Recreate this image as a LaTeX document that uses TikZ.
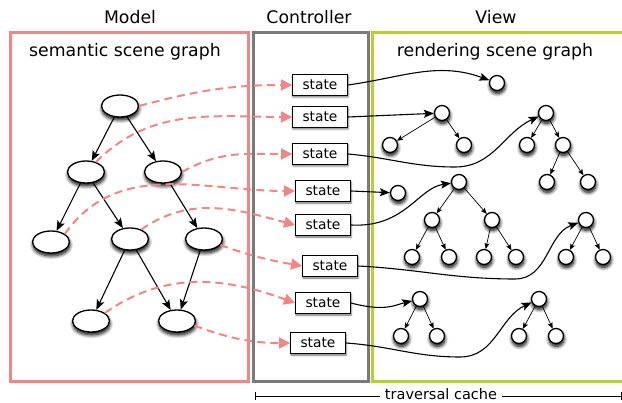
\documentclass[tikz,border=0pt]{standalone}
\usepackage{fontspec}
\setmainfont{DejaVu Sans}
\usetikzlibrary{arrows.meta,shapes.geometric,shadows.blur}
\definecolor{pinkc}{RGB}{242,134,132}
\definecolor{grayc}{RGB}{122,122,122}
\definecolor{greenc}{RGB}{186,207,44}
\begin{document}
\begin{tikzpicture}[x=1pt,y=1pt,
  shd/.style={blur shadow={shadow xshift=0.5pt,shadow yshift=-3pt,shadow blur radius=3.5pt,shadow blur steps=8,shadow opacity=100}},
  mnode/.style={ellipse,draw,line width=1.3pt,fill=white,minimum width=37pt,minimum height=22pt,inner sep=0pt,shd},
  vnode/.style={circle,draw,line width=1.3pt,fill=white,minimum size=15pt,inner sep=0pt,shd},
  stbox/.style={draw,line width=0.9pt,fill=white,minimum width=55pt,minimum height=21pt,inner sep=0pt,
    font=\fontsize{13.8}{16}\selectfont,blur shadow={shadow xshift=0.5pt,shadow yshift=-1.5pt,shadow blur radius=2pt,shadow opacity=60}},
  marrow/.style={-{Stealth[length=10pt,width=8pt,inset=2pt]},line width=1.1pt},
  varrow/.style={-{Stealth[length=6pt,width=5pt,inset=1.2pt]},line width=0.7pt},
  sarrow/.style={-{Stealth[length=10pt,width=8pt,inset=2pt]},line width=1.1pt},
  darrow/.style={-{Triangle[length=11pt,width=11pt]},line width=2pt,dash pattern=on 8pt off 5pt,draw=pinkc},
  frame/.style={line width=3pt},
  title/.style={font=\fontsize{17.3}{20}\selectfont,anchor=base},
]
\useasboundingbox (0,0) rectangle (622,-403);
% frames
\draw[frame,pinkc] (10,-33) rectangle (248,-382);
\draw[frame,grayc] (253,-33) rectangle (368,-382);
\draw[frame,greenc] (372,-33) rectangle (623,-382);
% titles
\node[title] (tModel) at (130,-24) {Model};
\node[title] (tCtrl) at (309,-24) {Controller};
\node[title] (tView) at (496,-24) {View};
\node[title] (tSem) at (125,-57) {semantic scene graph};
\node[title] (tRen) at (495,-57) {rendering scene graph};
% traversal cache
\coordinate (tcl) at (255,-396);
\coordinate (tcr) at (621,-396);
\draw[line width=0.6pt] (tcl) -- (tcr);
\draw[line width=0.6pt] (255,-392) -- (255,-400) (621,-392) -- (621,-400);
\node[fill=white,inner xsep=5pt,inner ysep=0pt,anchor=base,font=\fontsize{14.5}{16}\selectfont] (tc) at (441,-400) {traversal cache};
% model nodes
\node[mnode] (A) at (120,-106) {};
\node[mnode] (B) at (86,-172) {};
\node[mnode] (C) at (163,-172) {};
\node[mnode] (D) at (51,-242) {};
\node[mnode] (E) at (130,-239) {};
\node[mnode] (F) at (204,-239) {};
\node[mnode] (G) at (91,-321) {};
\node[mnode] (H) at (177,-321) {};
\draw[marrow] (A) -- (B);
\draw[marrow] (A) -- (C);
\draw[marrow] (B) -- (D);
\draw[marrow] (B) -- (E);
\draw[marrow] (C) -- (F);
\draw[marrow] (E) -- (G);
\draw[marrow] (E) -- (H);
\draw[marrow] (F) -- (H);
% state boxes
\node[stbox] (s1) at (320,-85) {state};
\node[stbox] (s2) at (320,-117) {state};
\node[stbox] (s3) at (320,-154) {state};
\node[stbox] (s4) at (323,-191) {state};
\node[stbox] (s5) at (323,-225) {state};
\node[stbox] (s6) at (330,-266) {state};
\node[stbox] (s7) at (323,-303) {state};
\node[stbox] (s8) at (318,-343) {state};
% dashed links
\draw[darrow] (A.east) to[out=15,in=180] (s1.west);
\draw[darrow] (B.45) to[out=45,in=180] (s2.west);
\draw[darrow] (C.east) to[out=30,in=180] (s3.west);
\draw[darrow] (D.30) to[out=55,in=180] (s4.west);
\draw[darrow] (E.40) to[out=35,in=165] (s5.west);
\draw[darrow] (F.-20) to[out=-20,in=170] (s6.west);
\draw[darrow] (G.30) to[out=35,in=160] (s7.west);
\draw[darrow] (H.-15) to[out=-20,in=180] (s8.west);
% view nodes
\node[vnode] (v1) at (497,-83) {};
\node[vnode] (t1) at (442,-113) {};
\node[vnode] (t1a) at (390,-145) {};
\node[vnode] (t1b) at (464,-145) {};
\node[vnode] (t2) at (546,-113) {};
\node[vnode] (t2a) at (527,-145) {};
\node[vnode] (t2b) at (563,-145) {};
\node[vnode] (t2ba) at (547,-182) {};
\node[vnode] (t2bb) at (588,-182) {};
\node[vnode] (v4) at (398,-193) {};
\node[vnode] (t3) at (459,-182) {};
\node[vnode] (t3a) at (432,-220) {};
\node[vnode] (t3b) at (492,-220) {};
\node[vnode] (t3aa) at (412,-257) {};
\node[vnode] (t3ab) at (449,-257) {};
\node[vnode] (t3ba) at (484,-257) {};
\node[vnode] (t3bb) at (516,-257) {};
\node[vnode] (t4) at (586,-220) {};
\node[vnode] (t4a) at (566,-257) {};
\node[vnode] (t4b) at (603,-257) {};
\node[vnode] (t5) at (420,-299) {};
\node[vnode] (t5a) at (401,-336) {};
\node[vnode] (t5b) at (437,-336) {};
\node[vnode] (t6) at (539,-299) {};
\node[vnode] (t6a) at (519,-336) {};
\node[vnode] (t6b) at (556,-336) {};
\foreach \p/\c in {t1/t1a,t1/t1b,t2/t2a,t2/t2b,t2b/t2ba,t2b/t2bb,t3/t3a,t3/t3b,t3a/t3aa,t3a/t3ab,t3b/t3ba,t3b/t3bb,t4/t4a,t4/t4b,t5/t5a,t5/t5b,t6/t6a,t6/t6b}
  \draw[varrow] (\p) -- (\c);
% state -> view
\draw[sarrow] (s1.east) to[out=8,in=160] (v1);
\draw[sarrow] (s2.east) -- (t1);
\draw[sarrow] (s3.east) to[out=-5,in=180] (455,-167) to[out=0,in=205] (t2);
\draw[sarrow] (s4.east) -- (v4);
\draw[sarrow] (s5.east) .. controls (405,-228) and (418,-188) .. (t3);
\draw[sarrow] (s6.east) to[out=-3,in=180] (515,-279) to[out=0,in=200] (t4);
\draw[sarrow] (s7.east) .. controls (385,-312) and (395,-305) .. (t5);
\draw[sarrow] (s8.east) to[out=-4,in=180] (460,-357) to[out=0,in=205] (t6);
\end{tikzpicture}
\end{document}
